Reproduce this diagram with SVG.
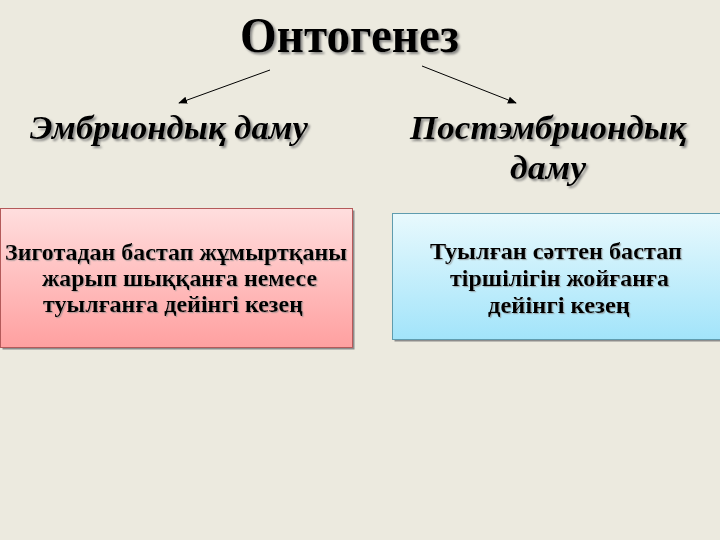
<svg xmlns="http://www.w3.org/2000/svg" width="720" height="540" viewBox="0 0 720 540">
<defs>
<style>
.t{font-family:"Liberation Serif","Times New Roman",serif;font-weight:bold;fill:#000}
.it{font-style:italic}
.bx{font-size:23px}
</style>
<linearGradient id="gPink" x1="0" y1="0" x2="0" y2="1">
<stop offset="0" stop-color="#ffdede"/>
<stop offset="1" stop-color="#ffa0a0"/>
</linearGradient>
<linearGradient id="gBlue" x1="0" y1="0" x2="0" y2="1">
<stop offset="0" stop-color="#e8f9fd"/>
<stop offset="1" stop-color="#a2e4fa"/>
</linearGradient>
<filter id="sh" x="-10%" y="-20%" width="130%" height="160%">
<feDropShadow dx="2" dy="2" stdDeviation="0.8" flood-color="#6e6e6e" flood-opacity="0.8"/>
</filter>
<filter id="shs" x="-10%" y="-20%" width="130%" height="160%">
<feDropShadow dx="1.2" dy="1.2" stdDeviation="0.6" flood-color="#888" flood-opacity="0.6"/>
</filter>
<marker id="ah" viewBox="0 0 10 10" refX="9" refY="5" markerWidth="9" markerHeight="9" orient="auto" markerUnits="userSpaceOnUse">
<path d="M0,1 L10,5 L0,9 z" fill="#000"/>
</marker>
</defs>
<rect width="720" height="540" fill="#eceadf"/>
<g id="title" filter="url(#sh)">
<text class="t" x="240" y="52" font-size="51" textLength="219" lengthAdjust="spacingAndGlyphs">Онтогенез</text>
</g>
<g id="connectors" stroke="#000" stroke-width="1" fill="none">
<line x1="270" y1="70" x2="179" y2="103" marker-end="url(#ah)"/>
<line x1="422" y1="66" x2="516" y2="103" marker-end="url(#ah)"/>
</g>
<g id="embryonic" filter="url(#sh)">
<text class="t it" x="30" y="139" font-size="34" textLength="278" lengthAdjust="spacingAndGlyphs">Эмбриондық даму</text>
</g>
<g id="postembryonic" filter="url(#sh)">
<text class="t it" x="410" y="139" font-size="34" textLength="276" lengthAdjust="spacingAndGlyphs">Постэмбриондық</text>
<text class="t it" x="510" y="179" font-size="34" textLength="76" lengthAdjust="spacingAndGlyphs">даму</text>
</g>
<g id="box-left">
<rect x="2.5" y="210.5" width="352" height="139" fill="#8c8c8c"/>
<rect x="0.5" y="208.5" width="352" height="139" fill="url(#gPink)" stroke="#b45a5a" stroke-width="1"/>
<g filter="url(#shs)">
<text class="t bx" x="5" y="260" textLength="342" lengthAdjust="spacingAndGlyphs">Зиготадан бастап жұмыртқаны</text>
<text class="t bx" x="42" y="286" textLength="275" lengthAdjust="spacingAndGlyphs">жарып шыққанға немесе</text>
<text class="t bx" x="43" y="312" textLength="260" lengthAdjust="spacingAndGlyphs">туылғанға дейінгі кезең</text>
</g>
</g>
<g id="box-right">
<rect x="394.5" y="215.5" width="340" height="126" fill="#8c8c8c"/>
<rect x="392.5" y="213.5" width="340" height="126" fill="url(#gBlue)" stroke="#5f9cae" stroke-width="1"/>
<g filter="url(#shs)">
<text class="t bx" x="430" y="259" textLength="252" lengthAdjust="spacingAndGlyphs">Туылған сәттен бастап</text>
<text class="t bx" x="450" y="286" textLength="219" lengthAdjust="spacingAndGlyphs">тіршілігін жойғанға</text>
<text class="t bx" x="488" y="313" textLength="142" lengthAdjust="spacingAndGlyphs">дейінгі кезең</text>
</g>
</g>
</svg>
